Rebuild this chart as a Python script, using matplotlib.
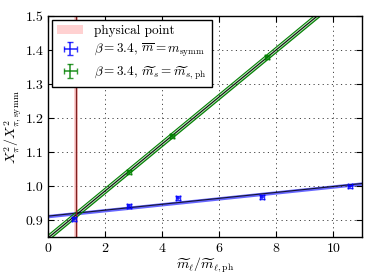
import numpy as np
import matplotlib
matplotlib.use("Agg")
import matplotlib.pyplot as plt

plt.rcParams["font.family"] = "serif"
plt.rcParams["font.serif"] = ["cmr10", "DejaVu Serif"]
plt.rcParams["mathtext.fontset"] = "cm"
plt.rcParams["axes.formatter.use_mathtext"] = True
plt.rcParams["font.size"] = 10

# data
symm_x = [0.93, 2.83, 4.56, 7.49, 10.58]
symm_y = [0.905, 0.942, 0.966, 0.969, 1.000]
symm_xerr = [0.07, 0.07, 0.07, 0.07, 0.07]
symm_yerr = [0.006, 0.005, 0.007, 0.005, 0.004]

phys_x = [2.83, 4.36, 7.67]
phys_y = [1.042, 1.148, 1.380]
phys_xerr = [0.07, 0.07, 0.07]
phys_yerr = [0.005, 0.005, 0.006]

# fit lines: intercept, slope, band half width
symm_fit = (0.9126, 0.0087, 0.005)
phys_fit = (0.848, 0.0691, 0.008)
phys_point = (1.0, 0.07)

fig = plt.figure(figsize=(3.74, 2.8), dpi=100)
ax = fig.add_axes([0.128, 0.152, 0.840, 0.791])

xs = np.linspace(0, 11, 100)
y = symm_fit[0] + symm_fit[1] * xs
ax.fill_between(xs, y - symm_fit[2], y + symm_fit[2], color="blue", alpha=0.6, lw=0)
ax.plot(xs, y, color="black", lw=0.8, alpha=0.8)

y = phys_fit[0] + phys_fit[1] * xs
ax.fill_between(xs, y - phys_fit[2], y + phys_fit[2], color="green", alpha=0.3, lw=0)
ax.plot(xs, y - phys_fit[2], color="green", lw=0.8)
ax.plot(xs, y + phys_fit[2], color="green", lw=0.8)
ax.plot(xs, y, color="black", lw=0.7)

ax.axvspan(phys_point[0] - phys_point[1], phys_point[0] + phys_point[1],
           color="red", alpha=0.18, lw=0, label="physical point")
ax.axvline(phys_point[0], color="#802020", lw=1.0)

ax.errorbar(symm_x, symm_y, xerr=symm_xerr, yerr=symm_yerr, fmt="none",
            ecolor="blue", capsize=2.5, elinewidth=1.2, alpha=0.8,
            label=r"$\beta=3.4$, $\overline{m}=m_\mathrm{symm}$")
ax.errorbar(phys_x, phys_y, xerr=phys_xerr, yerr=phys_yerr, fmt="none",
            ecolor="green", capsize=2.5, elinewidth=1.2, alpha=0.8,
            label=r"$\beta=3.4$, $\widetilde{m}_s=\widetilde{m}_{s,\mathrm{ph}}$")

ax.set_xlim(0, 11)
ax.set_ylim(0.85, 1.5)
ax.set_xticks([0, 2, 4, 6, 8, 10])
ax.set_yticks([0.9, 1.0, 1.1, 1.2, 1.3, 1.4, 1.5])
ax.yaxis.set_major_formatter(matplotlib.ticker.FormatStrFormatter("%.1f"))
ax.tick_params(direction="in", top=True, right=True, length=4, labelsize=10, pad=3)
ax.grid(True, color="#444444", lw=0.7, dashes=(1.2, 3.5))
for s in ax.spines.values():
    s.set_linewidth(1.0)

ax.set_xlabel(r"$\widetilde{m}_\ell/\widetilde{m}_{\ell,\mathrm{ph}}$", fontsize=10, labelpad=1)
ax.set_ylabel(r"$X_\pi^2/X_{\pi,\mathrm{symm}}^2$", fontsize=10, labelpad=1)

leg = ax.legend(loc="upper left", fontsize=9.5, fancybox=False, framealpha=1,
                edgecolor="black", borderpad=0.4, handlelength=2,
                labelspacing=0.35, borderaxespad=0.3)
leg.get_frame().set_linewidth(1.0)

fig.savefig("out.png", dpi=100)
